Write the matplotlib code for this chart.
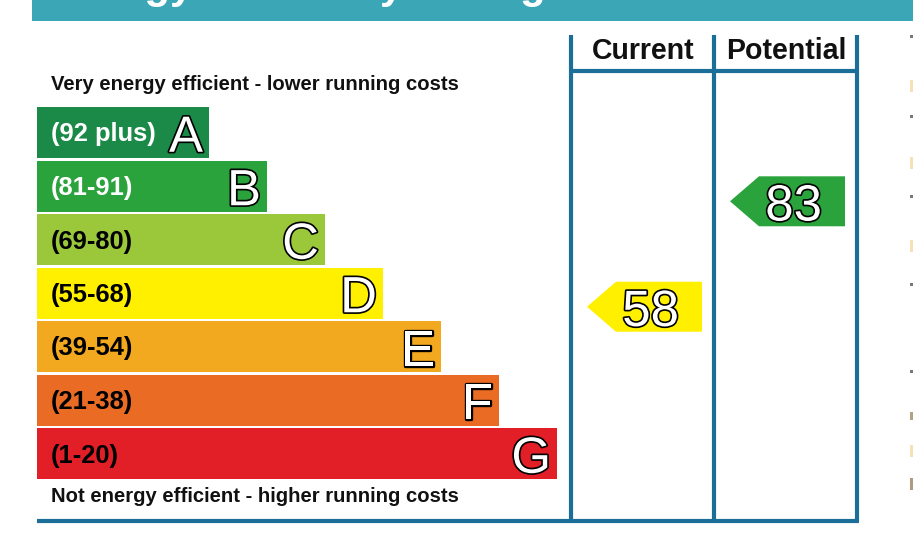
import numpy as np
import matplotlib
matplotlib.use("Agg")
import matplotlib.pyplot as plt
from matplotlib.patches import Rectangle, Polygon
import matplotlib.patheffects as pe

# band data
bands = ["A", "B", "C", "D", "E", "F", "G"]
band_labels = ["(92 plus)", "(81-91)", "(69-80)", "(55-68)", "(39-54)", "(21-38)", "(1-20)"]
band_low = [92, 81, 69, 55, 39, 21, 1]
band_high = [100, 91, 80, 68, 54, 38, 20]
band_colors = ["#1b8a48", "#2ba33c", "#9bc83b", "#fff000", "#f3a91f", "#ea6b24", "#e21e26"]
label_colors = ["white", "white", "black", "black", "black", "black", "black"]

current_rating = 58
potential_rating = 83

title = "Energy Efficiency Rating"
top_note = "Very energy efficient - lower running costs"
bottom_note = "Not energy efficient - higher running costs"
col_titles = ["Current", "Potential"]

W, H = 913, 544
FONT = "Liberation Sans"
frame_col = "#1b6e97"
banner_col = "#3ba6b6"


def px(p):
    # pixel size -> points at dpi 100
    return p * 0.72


fig = plt.figure(figsize=(W / 100, H / 100), dpi=100)
ax = fig.add_axes([0, 0, 1, 1])
ax.set_xlim(0, W)
ax.set_ylim(H, 0)
ax.axis("off")

# banner with clipped title (the reference crops it the same way)
ax.add_patch(Rectangle((32, 0), W - 32, 20.5, color=banner_col, lw=0))
ax.text(51, -2, title, color="white", fontsize=px(42), fontweight="bold",
        family=FONT, ha="left", va="baseline")

# layout
bar_left = 37
bar_top0 = 107
bar_pitch = 53.5
bar_h = 51
bar_w0 = 172
bar_step = 58
big = 51          # pixel size of outlined letters / numbers
cap = 0.716 * big

outline = [pe.withStroke(linewidth=2.4, foreground="black")]

for i, b in enumerate(bands):
    top = bar_top0 + i * bar_pitch
    right = bar_left + bar_w0 + bar_step * i
    ax.add_patch(Rectangle((bar_left, top), right - bar_left, bar_h,
                           color=band_colors[i], lw=0))
    ax.text(bar_left + 14, top + bar_h / 2 + 2, band_labels[i], color=label_colors[i],
            fontsize=px(25.5), fontweight="bold", family=FONT, ha="left", va="center")
    t = ax.text(right - 6, top + bar_h / 2 + cap / 2 + 1, b, color="white",
                fontsize=px(big), family=FONT, ha="right", va="baseline")
    t.set_path_effects(outline)

ax.text(51, 84, top_note, fontsize=px(20.3), fontweight="bold", family=FONT,
        ha="left", va="center", color="#111111")
ax.text(51, 497, bottom_note, fontsize=px(20.3), fontweight="bold", family=FONT,
        ha="left", va="center", color="#111111")

# frame lines
col_x = [571, 714, 857]
lw = 3.0
for x in col_x:
    ax.plot([x, x], [35, 521], color=frame_col, lw=lw, solid_capstyle="butt")
ax.plot([col_x[0], col_x[-1] + 2], [71, 71], color=frame_col, lw=lw, solid_capstyle="butt")
ax.plot([bar_left, col_x[-1] + 2], [521, 521], color=frame_col, lw=lw, solid_capstyle="butt")

for j, name in enumerate(col_titles):
    ax.text((col_x[j] + col_x[j + 1]) / 2 + 1, 51, name, fontsize=px(28.5), fontweight="bold",
            family=FONT, ha="center", va="center", color="#111111")


def rating_band(r):
    for i in range(len(bands)):
        if band_low[i] <= r <= band_high[i]:
            return i
    return len(bands) - 1


def draw_arrow(r, col):
    i = rating_band(r)
    lo, hi = band_low[i], band_high[i]
    frac = (r - lo) / (hi - lo)
    bottom = bar_top0 + i * bar_pitch + bar_h
    cy = bottom - frac * bar_h
    x0 = col_x[col] + 16
    x1 = col_x[col + 1] - 12
    depth = 29
    h = 50
    pts = [(x0, cy), (x0 + depth, cy - h / 2), (x1, cy - h / 2),
           (x1, cy + h / 2), (x0 + depth, cy + h / 2)]
    ax.add_patch(Polygon(pts, closed=True, color=band_colors[i], lw=0))
    t = ax.text(x1 - 23, cy + cap / 2 + 1, str(r), color="white", fontsize=px(big),
                family=FONT, ha="right", va="baseline")
    t.set_path_effects(outline)


draw_arrow(current_rating, 0)
draw_arrow(potential_rating, 1)

# cut-off bits of neighbouring text at the right edge
edge_marks = [(35, 3, "#555555"), (80, 12, "#f3d9a8"), (115, 3, "#555555"),
              (157, 12, "#f3d9a8"), (195, 3, "#555555"), (240, 12, "#f3d9a8"),
              (283, 3, "#555555"), (370, 3, "#555555"), (412, 8, "#a08a66"),
              (445, 12, "#f3d9a8"), (478, 12, "#9a8262")]
for y, hh, c in edge_marks:
    ax.add_patch(Rectangle((910, y), 3, hh, color=c, lw=0, alpha=0.8))

fig.savefig("out.png", dpi=100)
